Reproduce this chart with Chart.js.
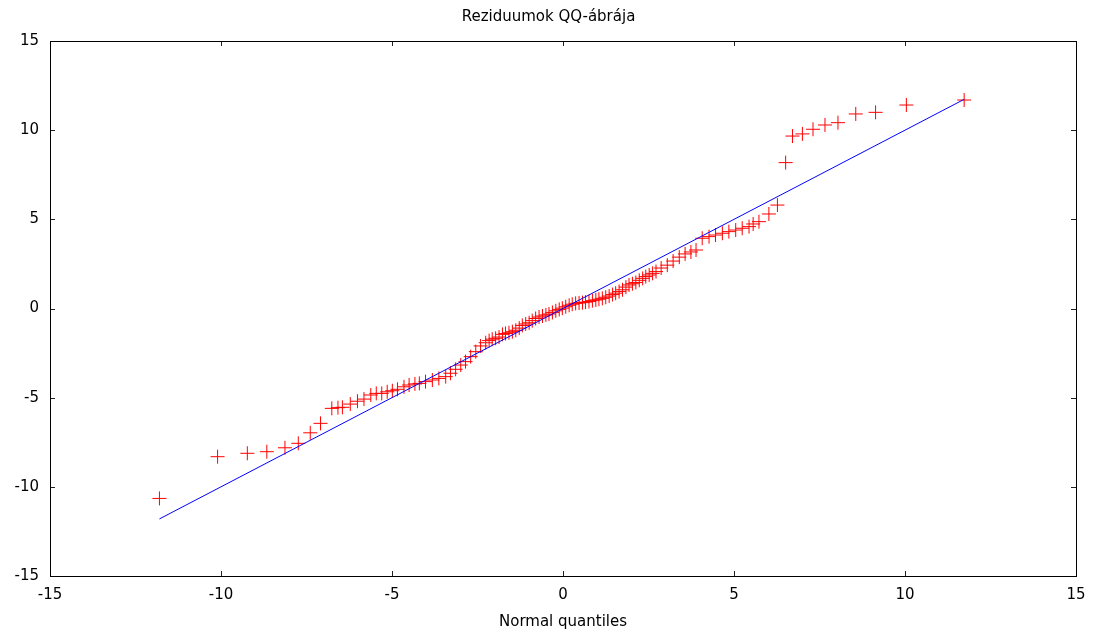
<!DOCTYPE html>
<html>
<head>
<meta charset="utf-8">
<title>Reziduumok QQ-ábrája</title>
<script src="https://cdn.jsdelivr.net/npm/chart.js@4/dist/chart.umd.min.js"></script>
<style>
  html, body { margin: 0; padding: 0; background: #fff; }
  #wrap { width: 1097px; height: 633px; }
</style>
</head>
<body>
<div id="wrap"><canvas id="qq"></canvas></div>
<script>
// Normal quantiles (x) and sorted residuals (y)
const quantiles = [
  -11.8, -10.1, -9.23, -8.66, -8.13, -7.74, -7.39, -7.09, -6.76, -6.58,
  -6.45, -6.22, -6.01, -5.82, -5.62, -5.46, -5.3, -5.14, -4.99, -4.84,
  -4.65, -4.5, -4.33, -4.2, -4.02, -3.82, -3.63, -3.43, -3.29, -3.14,
  -2.99, -2.85, -2.7, -2.55, -2.41, -2.26, -2.16, -2.07, -1.97, -1.87,
  -1.77, -1.68, -1.58, -1.48, -1.38, -1.28, -1.19, -1.09, -0.99, -0.9,
  -0.8, -0.7, -0.6, -0.5, -0.41, -0.31, -0.21, -0.11, -0.02, 0.08,
  0.18, 0.27, 0.37, 0.47, 0.57, 0.66, 0.76, 0.86, 0.96, 1.05,
  1.15, 1.25, 1.35, 1.45, 1.54, 1.64, 1.74, 1.84, 1.93, 2.03,
  2.13, 2.23, 2.33, 2.42, 2.52, 2.62, 2.72, 2.87, 3.05, 3.22,
  3.4, 3.57, 3.74, 3.89, 4.07, 4.27, 4.46, 4.66, 4.85, 5.05,
  5.24, 5.44, 5.56, 5.73, 6.02, 6.27, 6.51, 6.71, 7.0, 7.31,
  7.66, 8.04, 8.56, 9.14, 10.04, 11.73
];
const residuals = [
  -10.65, -8.31, -8.12, -8.03, -7.81, -7.56, -6.97, -6.44, -5.6, -5.56,
  -5.54, -5.36, -5.2, -5.08, -4.85, -4.76, -4.76, -4.67, -4.61, -4.53,
  -4.39, -4.29, -4.23, -4.2, -4.1, -4.01, -3.92, -3.82, -3.63, -3.41,
  -3.17, -2.98, -2.7, -2.42, -2.1, -1.92, -1.8, -1.72, -1.67, -1.6,
  -1.45, -1.4, -1.36, -1.3, -1.22, -1.1, -0.95, -0.87, -0.8, -0.68,
  -0.56, -0.48, -0.42, -0.36, -0.31, -0.22, -0.13, -0.05, 0.02, 0.1,
  0.18, 0.24, 0.29, 0.31, 0.33, 0.36, 0.39, 0.44, 0.48, 0.52,
  0.57, 0.63, 0.7, 0.78, 0.86, 0.95, 1.05, 1.2, 1.32, 1.39,
  1.46, 1.58, 1.69, 1.79, 1.88, 1.97, 2.07, 2.27, 2.43, 2.66,
  2.88, 3.06, 3.17, 3.28, 3.94, 4.03, 4.12, 4.22, 4.31, 4.4,
  4.5, 4.59, 4.74, 4.87, 5.3, 5.8, 8.18, 9.67, 9.79, 10.05,
  10.29, 10.42, 10.91, 11.0, 11.41, 11.69
];

// Reference line y = x
const refX = [-11.8, 11.73];
const refY = [-11.8, 11.73];

// Axis ticks
const tickValues = [-15, -10, -5, 0, 5, 10, 15];

const FONT = { family: "'DejaVu Sans', Verdana, sans-serif", size: 15 };

// Box around the plot area with inward tick marks on every side
const frame = {
  id: 'frame',
  afterDatasetsDraw(chart) {
    const { ctx, chartArea: a, scales } = chart;
    const len = 5;
    ctx.save();
    ctx.strokeStyle = '#222';
    ctx.lineWidth = 1;
    ctx.beginPath();
    tickValues.forEach(v => {
      const px = Math.round(scales.x.getPixelForValue(v)) + 0.5;
      ctx.moveTo(px, a.bottom); ctx.lineTo(px, a.bottom - len);
      ctx.moveTo(px, a.top); ctx.lineTo(px, a.top + len);
      const py = Math.round(scales.y.getPixelForValue(v)) + 0.5;
      ctx.moveTo(a.left, py); ctx.lineTo(a.left + len, py);
      ctx.moveTo(a.right, py); ctx.lineTo(a.right - len, py);
    });
    ctx.stroke();
    ctx.strokeStyle = '#000';
    ctx.strokeRect(Math.round(a.left) + 0.5, Math.round(a.top) + 0.5,
                   Math.round(a.right - a.left), Math.round(a.bottom - a.top));
    ctx.restore();
  }
};

const ctx = document.getElementById('qq').getContext('2d');
new Chart(ctx, {
  data: {
    datasets: [
      {
        type: 'line',
        label: 'y = x',
        data: refX.map((x, i) => ({ x, y: refY[i] })),
        borderColor: '#0000ff',
        borderWidth: 1,
        pointRadius: 0,
        fill: false,
        tension: 0
      },
      {
        type: 'scatter',
        label: 'Reziduumok',
        data: quantiles.map((x, i) => ({ x, y: residuals[i] })),
        pointStyle: 'cross',
        pointRadius: 7,
        pointBorderWidth: 1,
        borderColor: '#ff0000',
        backgroundColor: '#ff0000'
      }
    ]
  },
  options: {
    responsive: true,
    maintainAspectRatio: false,
    animation: false,
    layout: { padding: 0 },
    plugins: {
      legend: { display: false },
      tooltip: { enabled: false },
      title: {
        display: true,
        text: 'Reziduumok QQ-ábrája',
        color: '#000',
        font: { ...FONT, weight: 'normal' },
        padding: { top: 8, bottom: 15 }
      }
    },
    scales: {
      x: {
        type: 'linear',
        min: -15,
        max: 15,
        afterBuildTicks: s => { s.ticks = tickValues.map(v => ({ value: v })); },
        afterFit: s => { s.height = 57; },
        grid: { display: false, drawTicks: false },
        border: { display: false },
        ticks: { color: '#000', font: FONT, padding: 10, maxRotation: 0 },
        title: {
          display: true,
          text: 'Normal quantiles',
          color: '#000',
          font: FONT,
          padding: { top: 4, bottom: 2 }
        }
      },
      y: {
        type: 'linear',
        min: -15,
        max: 15,
        afterBuildTicks: s => { s.ticks = tickValues.map(v => ({ value: v })); },
        afterFit: s => { s.width = 50; },
        grid: { display: false, drawTicks: false },
        border: { display: false },
        ticks: { color: '#000', font: FONT, padding: 11 }
      },
      // empty right margin so the title stays centred on the canvas
      yRight: {
        type: 'linear',
        position: 'right',
        min: -15,
        max: 15,
        afterFit: s => { s.width = 21; },
        grid: { display: false, drawTicks: false },
        border: { display: false },
        ticks: { display: false }
      }
    }
  },
  plugins: [frame]
});
</script>
</body>
</html>
